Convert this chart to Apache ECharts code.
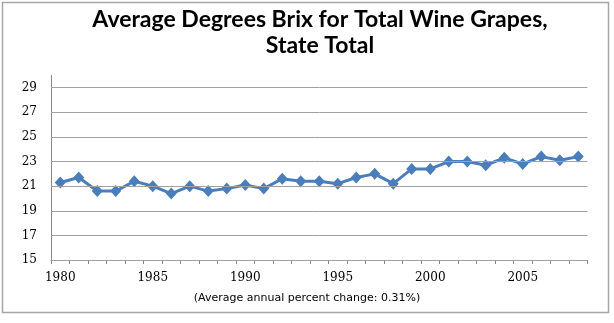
<!DOCTYPE html>
<html>
<head>
<meta charset="utf-8">
<script src="https://cdn.jsdelivr.net/npm/echarts@6/dist/echarts.min.js"></script>
<style>
  html, body { margin: 0; padding: 0; background: #fff; }
  #chart { width: 614px; height: 323px; }
</style>
</head>
<body>
<div id="chart"></div>
<script>
// Season years and average degrees Brix for all wine grapes, state total
const years = [
  '1980','1981','1982','1983','1984','1985','1986','1987','1988','1989',
  '1990','1991','1992','1993','1994','1995','1996','1997','1998','1999',
  '2000','2001','2002','2003','2004','2005','2006','2007','2008'
];
const brix = [
  21.3, 21.7, 20.6, 20.6, 21.4, 21.0, 20.4, 21.0, 20.6, 20.8,
  21.1, 20.8, 21.6, 21.4, 21.4, 21.2, 21.7, 22.0, 21.2, 22.4,
  22.4, 23.0, 23.0, 22.7, 23.3, 22.8, 23.4, 23.1, 23.4
];
// Value-axis gridline / label positions
const yTicks = [15, 17, 19, 21, 23, 25, 27, 29];
const yMin = 15, yMax = 30;

const chart = echarts.init(document.getElementById('chart'));
chart.setOption({
  animation: false,
  backgroundColor: '#fff',
  graphic: [
    {
      type: 'rect',
      shape: { x: 2.5, y: 2.5, width: 606, height: 310 },
      style: { fill: 'none', stroke: '#a6a6a6', lineWidth: 1.5 },
      z: -1
    },
    {
      // two-line chart heading, centred on x = 320
      type: 'text',
      x: 320,
      y: 7,
      style: {
        text: 'Average Degrees Brix for Total Wine Grapes,\nState Total',
        font: 'bold 23px Lato',
        lineHeight: 26,
        align: 'center',
        verticalAlign: 'top',
        textAlign: 'center',
        textVerticalAlign: 'top',
        fill: '#000'
      }
    },
    {
      type: 'text',
      left: 'center',
      top: 293,
      style: {
        text: '(Average annual percent change: 0.31%)',
        font: '11px "DejaVu Sans"',
        fill: '#000'
      }
    }
  ],
  grid: { left: 51, right: 26.5, top: 75.4, bottom: 63 },
  xAxis: {
    type: 'category',
    data: years,
    boundaryGap: true,
    axisLine: { show: true, lineStyle: { color: '#868686', width: 1 } },
    axisTick: {
      show: true,
      interval: 0,
      length: 4,
      lineStyle: { color: '#868686' }
    },
    axisLabel: {
      interval: (idx) => idx % 5 === 0,
      margin: 12,
      fontFamily: 'DejaVu Serif',
      fontSize: 12,
      color: '#000'
    },
    splitLine: { show: false }
  },
  yAxis: {
    type: 'value',
    min: yMin,
    max: yMax,
    axisLine: { show: true, lineStyle: { color: '#868686', width: 1 } },
    axisTick: { show: false },
    axisLabel: { show: false },
    splitLine: { show: false }
  },
  series: [{
    type: 'line',
    data: brix,
    symbol: 'diamond',
    symbolSize: [11, 12],
    lineStyle: { color: '#4a7ebb', width: 3 },
    itemStyle: { color: '#4a7ebb' },
    markLine: {
      silent: true,
      symbol: 'none',
      animation: false,
      lineStyle: { color: '#a0a0a0', type: 'solid', width: 1 },
      label: {
        show: true,
        position: 'start',
        distance: 14,
        formatter: (p) => String(p.value),
        fontFamily: 'DejaVu Serif',
        fontSize: 12,
        color: '#000'
      },
      data: yTicks.map(v => ({ yAxis: v }))
    },
    z: 3
  }]
});
</script>
</body>
</html>
